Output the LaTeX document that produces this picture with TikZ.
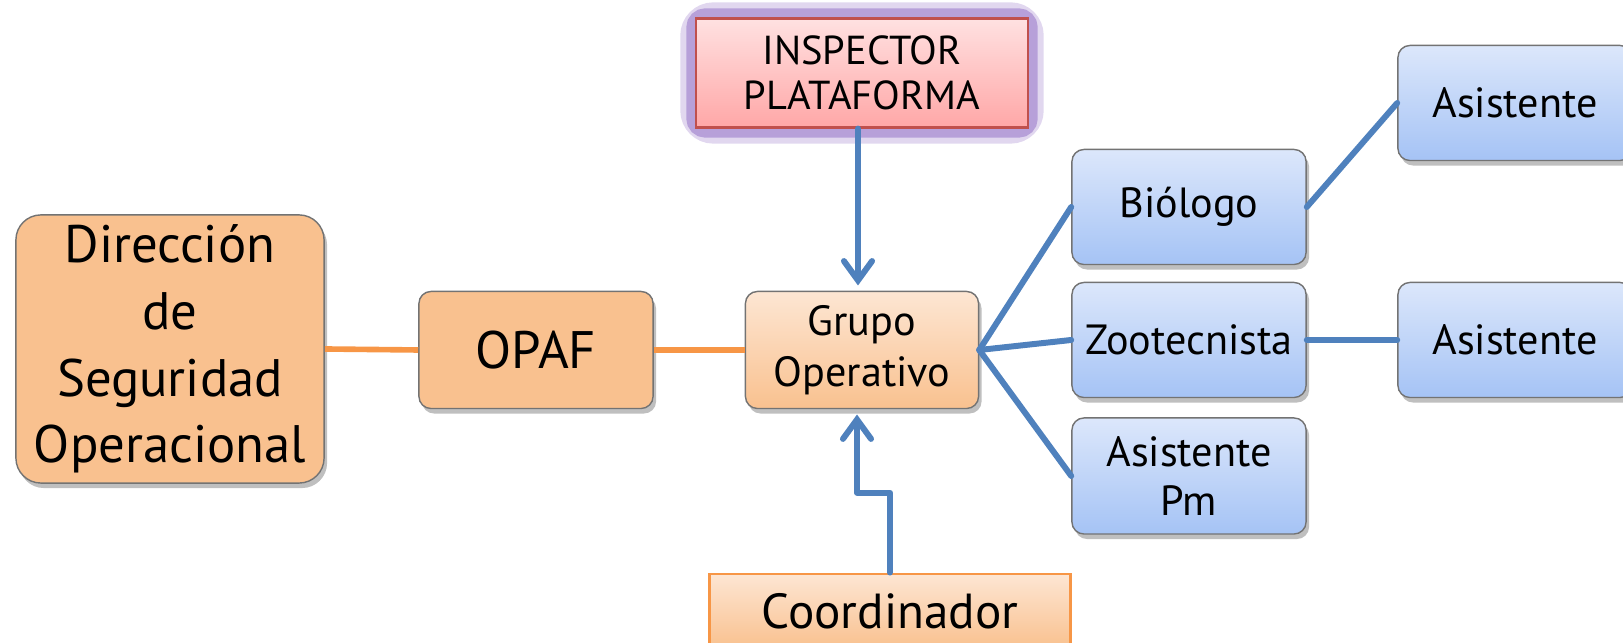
\documentclass[tikz,border=0pt]{standalone}
\usepackage{fontspec}
\setmainfont{PT Sans}
\usepackage{xcolor}
\usepackage{tikz}
\usetikzlibrary{arrows.meta,shadows,backgrounds}

\definecolor{naranja}{HTML}{F9C18F}
\definecolor{naranjaclaro}{HTML}{FDE6D3}
\definecolor{naranjaborde}{HTML}{F79646}
\definecolor{azulclaro}{HTML}{DCE7FB}
\definecolor{azul}{HTML}{A5C3F5}
\definecolor{linea}{HTML}{4F81BD}
\definecolor{rosaclaro}{HTML}{FFE1E1}
\definecolor{rosa}{HTML}{FFA7A7}
\definecolor{rojoborde}{HTML}{C0504D}
\definecolor{brillo}{HTML}{9B7BCB}

\begin{document}
\begin{tikzpicture}[x=0.01cm,y=0.01cm,
        caja/.style={draw=black!55, line width=0.4pt, rounded corners=0.12cm, align=center, inner sep=0pt,
            drop shadow={shadow xshift=0.3mm, shadow yshift=-0.5mm, opacity=0.25, fill=black}},
        naranjacaja/.style={caja, fill=naranja},
        grupocaja/.style={caja, top color=naranjaclaro, bottom color=naranja},
        azulcaja/.style={caja, top color=azulclaro, bottom color=azul, minimum width=2.34cm, minimum height=1.15cm,
            font=\fontsize{12}{14}\selectfont},
        lineanaranja/.style={draw=naranjaborde, line width=1.6pt},
        lineaazul/.style={draw=linea, line width=1.7pt, line cap=round},
        flecha/.style={lineaazul, -{Straight Barb[length=5.5pt,width=8pt,line cap=round]}}]
            \useasboundingbox (0,0) rectangle (1623,643);

            \node[naranjacaja, rounded corners=0.25cm, minimum width=3.08cm, minimum height=2.68cm,
                font=\fontsize{15}{19}\selectfont] at (170,294) (dir) {Dirección\\de\\Seguridad\\Operacional};
            \node[naranjacaja, minimum width=2.34cm, minimum height=1.17cm,
                font=\fontsize{15}{19}\selectfont] at (536,293) (opaf) {OPAF};
            \node[grupocaja, minimum width=2.33cm, minimum height=1.17cm,
                font=\fontsize{12}{14.5}\selectfont] at (862,293) (grupo) {Grupo\\Operativo};

            \node[draw=rojoborde, line width=0.6pt, top color=rosaclaro, bottom color=rosa, align=center,
                minimum width=3.31cm, minimum height=1.09cm, font=\fontsize{11.5}{13}\selectfont]
                at (862,570) (insp) {INSPECTOR\\PLATAFORMA};
            \begin{scope}[on background layer]
                \draw[brillo, opacity=0.3, line width=3mm, rounded corners=0.18cm] (insp.south west) rectangle (insp.north east);
                \draw[brillo, opacity=0.6, line width=1.8mm, rounded corners=0.1cm] (insp.south west) rectangle (insp.north east);
            \end{scope}
            \node[draw=naranjaborde, line width=0.8pt, top color=naranjaclaro, bottom color=naranja,
                minimum width=3.6cm, minimum height=0.74cm, font=\fontsize{14}{16}\selectfont]
                at (890,32) (coord) {Coordinador};

            \node[azulcaja] at (1189,436) (bio) {Biólogo};
            \node[azulcaja] at (1189,303) (zoo) {Zootecnista};
            \node[azulcaja, minimum height=1.16cm] at (1189,167) (apm) {Asistente\\Pm};
            \node[azulcaja] at (1515,540) (asis1) {Asistente};
            \node[azulcaja] at (1515,303) (asis2) {Asistente};

            \draw[lineanaranja] (dir.east) -- (opaf.west);
            \draw[lineanaranja] (opaf.east) -- (grupo.west);

            \draw[flecha] ([xshift=-0.04cm]insp.south) -- ([xshift=-0.04cm,yshift=1.5pt]grupo.north);
            \draw[flecha, line join=round] (coord.north) -- ++(0,80) -| ([xshift=-0.05cm,yshift=-1.5pt]grupo.south);

            \draw[lineaazul] (grupo.east) -- (bio.west);
            \draw[lineaazul] (grupo.east) -- (zoo.west);
            \draw[lineaazul] (grupo.east) -- (apm.west);
            \draw[lineaazul] (bio.east) -- (asis1.west);
            \draw[lineaazul] (zoo.east) -- (asis2.west);
        \end{tikzpicture}
\end{document}
